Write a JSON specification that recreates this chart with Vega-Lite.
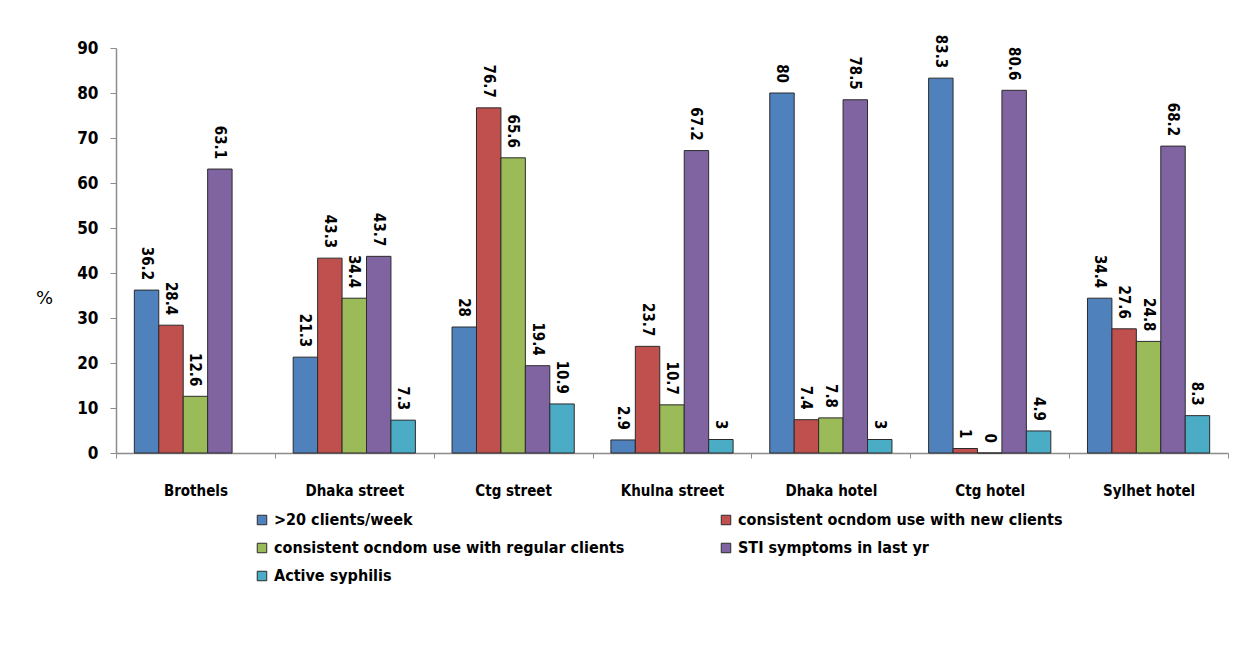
{
  "$schema": "https://vega.github.io/schema/vega-lite/v6.json",
  "width": 1112,
  "height": 405,
  "autosize": {"type": "none"},
  "padding": {"left": 116, "top": 48, "right": 17, "bottom": 193},
  "background": "white",
  "config": {
    "view": {"stroke": null},
    "font": "DejaVu Sans Condensed",
    "axis": {"labelFont": "DejaVu Sans Condensed", "titleFont": "DejaVu Sans"},
    "legend": {"labelFont": "DejaVu Sans Condensed"}
  },
  "data": {
    "values": [
      {"site": "Brothels", "indicator": ">20 clients/week", "pct": 36.2},
      {"site": "Brothels", "indicator": "consistent ocndom use with new clients", "pct": 28.4},
      {"site": "Brothels", "indicator": "consistent ocndom use with regular clients", "pct": 12.6},
      {"site": "Brothels", "indicator": "STI symptoms in last yr", "pct": 63.1},
      {"site": "Dhaka street", "indicator": ">20 clients/week", "pct": 21.3},
      {"site": "Dhaka street", "indicator": "consistent ocndom use with new clients", "pct": 43.3},
      {"site": "Dhaka street", "indicator": "consistent ocndom use with regular clients", "pct": 34.4},
      {"site": "Dhaka street", "indicator": "STI symptoms in last yr", "pct": 43.7},
      {"site": "Dhaka street", "indicator": "Active syphilis", "pct": 7.3},
      {"site": "Ctg street", "indicator": ">20 clients/week", "pct": 28},
      {"site": "Ctg street", "indicator": "consistent ocndom use with new clients", "pct": 76.7},
      {"site": "Ctg street", "indicator": "consistent ocndom use with regular clients", "pct": 65.6},
      {"site": "Ctg street", "indicator": "STI symptoms in last yr", "pct": 19.4},
      {"site": "Ctg street", "indicator": "Active syphilis", "pct": 10.9},
      {"site": "Khulna street", "indicator": ">20 clients/week", "pct": 2.9},
      {"site": "Khulna street", "indicator": "consistent ocndom use with new clients", "pct": 23.7},
      {"site": "Khulna street", "indicator": "consistent ocndom use with regular clients", "pct": 10.7},
      {"site": "Khulna street", "indicator": "STI symptoms in last yr", "pct": 67.2},
      {"site": "Khulna street", "indicator": "Active syphilis", "pct": 3},
      {"site": "Dhaka hotel", "indicator": ">20 clients/week", "pct": 80},
      {"site": "Dhaka hotel", "indicator": "consistent ocndom use with new clients", "pct": 7.4},
      {"site": "Dhaka hotel", "indicator": "consistent ocndom use with regular clients", "pct": 7.8},
      {"site": "Dhaka hotel", "indicator": "STI symptoms in last yr", "pct": 78.5},
      {"site": "Dhaka hotel", "indicator": "Active syphilis", "pct": 3},
      {"site": "Ctg hotel", "indicator": ">20 clients/week", "pct": 83.3},
      {"site": "Ctg hotel", "indicator": "consistent ocndom use with new clients", "pct": 1},
      {"site": "Ctg hotel", "indicator": "consistent ocndom use with regular clients", "pct": 0},
      {"site": "Ctg hotel", "indicator": "STI symptoms in last yr", "pct": 80.6},
      {"site": "Ctg hotel", "indicator": "Active syphilis", "pct": 4.9},
      {"site": "Sylhet hotel", "indicator": ">20 clients/week", "pct": 34.4},
      {"site": "Sylhet hotel", "indicator": "consistent ocndom use with new clients", "pct": 27.6},
      {"site": "Sylhet hotel", "indicator": "consistent ocndom use with regular clients", "pct": 24.8},
      {"site": "Sylhet hotel", "indicator": "STI symptoms in last yr", "pct": 68.2},
      {"site": "Sylhet hotel", "indicator": "Active syphilis", "pct": 8.3}
    ]
  },
  "encoding": {
    "x": {
      "field": "site",
      "type": "nominal",
      "sort": ["Brothels", "Dhaka street", "Ctg street", "Khulna street", "Dhaka hotel", "Ctg hotel", "Sylhet hotel"],
      "scale": {"paddingInner": 0, "paddingOuter": 0},
      "axis": {
        "title": null,
        "labelAngle": 0,
        "labelFontSize": 15,
        "labelFontWeight": "bold",
        "labelColor": "black",
        "labelPadding": 25,
        "tickBand": "extent",
        "tickSize": 5,
        "tickColor": "#8c8c8c",
        "domainColor": "#8c8c8c",
        "domainWidth": 1.5
      }
    },
    "xOffset": {
      "field": "indicator",
      "type": "nominal",
      "sort": [">20 clients/week", "consistent ocndom use with new clients", "consistent ocndom use with regular clients", "STI symptoms in last yr", "Active syphilis"],
      "scale": {"paddingInner": 0, "paddingOuter": 0.75}
    },
    "y": {
      "field": "pct",
      "type": "quantitative",
      "scale": {"domain": [0, 90], "nice": false},
      "axis": {
        "title": "%",
        "titleAngle": 0,
        "titleX": -72,
        "titleY": 250,
        "titleAlign": "center",
        "titleBaseline": "middle",
        "titleFontSize": 18,
        "titleFontWeight": "normal",
        "titleColor": "black",
        "values": [0, 10, 20, 30, 40, 50, 60, 70, 80, 90],
        "labelFontSize": 17,
        "labelFontWeight": "bold",
        "labelColor": "black",
        "labelPadding": 12,
        "tickSize": 6,
        "tickColor": "#8c8c8c",
        "domainColor": "#8c8c8c",
        "domainWidth": 1.5,
        "grid": false
      }
    }
  },
  "layer": [
    {
      "mark": {"type": "bar", "stroke": "#2b2b2b", "strokeWidth": 1},
      "encoding": {
        "color": {
          "field": "indicator",
          "type": "nominal",
          "sort": [">20 clients/week", "consistent ocndom use with new clients", "consistent ocndom use with regular clients", "STI symptoms in last yr", "Active syphilis"],
          "scale": {
            "domain": [">20 clients/week", "consistent ocndom use with new clients", "consistent ocndom use with regular clients", "STI symptoms in last yr", "Active syphilis"],
            "range": ["#4F81BD", "#C0504D", "#9BBB59", "#8064A2", "#4BACC6"]
          },
          "legend": {
            "title": null,
            "orient": "none",
            "direction": "horizontal",
            "legendX": 138,
            "legendY": 464,
            "columns": 2,
            "columnPadding": 93,
            "rowPadding": 12,
            "symbolType": "square",
            "symbolSize": 90,
            "symbolStrokeColor": "#2b2b2b",
            "symbolStrokeWidth": 1,
            "labelOffset": 4,
            "labelFontSize": 16,
            "labelFontWeight": "bold",
            "labelColor": "black",
            "labelLimit": 500
          }
        }
      }
    },
    {
      "mark": {"type": "text", "angle": 90, "align": "right", "baseline": "middle", "dx": -10, "fontSize": 15, "fontWeight": "bold", "color": "black"},
      "encoding": {
        "text": {"field": "pct", "type": "quantitative"}
      }
    }
  ]
}
